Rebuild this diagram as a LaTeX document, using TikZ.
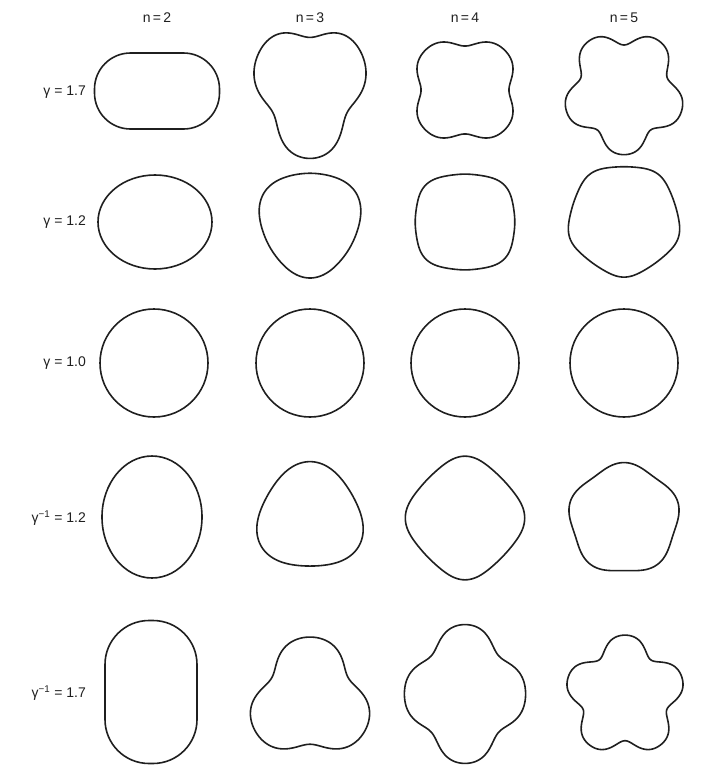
\documentclass[tikz,border=0pt]{standalone}
\usepackage{fontspec}
\setmainfont{Liberation Sans}
\tikzset{
  shapeline/.style={line width=1.6pt, draw=black!88, line join=round},
  lab/.style={font=\fontsize{14}{16}\selectfont, text=black!88, inner sep=0pt},
}
% lobed closed curve: #1 cx, #2 cy (pixels, downward), #3 sx, #4 sy, #5 n, #6 lobe angle, #7 amplitude, #8 shape factor
\newcommand\lobeshape[8]{%
  \draw[shapeline] plot[domain=0:358, samples=180, smooth cycle, variable=\t]
  ({#1 + (#3)*(1+(#7)*(cos((#5)*(\t-(#6))) - (#8)*cos(2*(#5)*(\t-(#6)))))*cos(\t)},
   {-(#2) + (#4)*(1+(#7)*(cos((#5)*(\t-(#6))) - (#8)*cos(2*(#5)*(\t-(#6)))))*sin(\t)});}
\begin{document}
\begin{tikzpicture}[x=1pt,y=1pt]
\useasboundingbox (0,0) rectangle (716,-771);
% column labels
\node[lab] (n2) at (157,-18) {n\,=\,2};
\node[lab] (n3) at (310,-18) {n\,=\,3};
\node[lab] (n4) at (465,-18) {n\,=\,4};
\node[lab] (n5) at (624,-18) {n\,=\,5};
% row labels
\node[lab, anchor=east] (r1) at (86,-92) {γ = 1.7};
\node[lab, anchor=east] (r2) at (86,-222) {γ = 1.2};
\node[lab, anchor=east] (r3) at (86,-363) {γ = 1.0};
\node[lab, anchor=east] (r4) at (86,-518) {γ\textsuperscript{−1} = 1.2};
\node[lab, anchor=east] (r5) at (86,-693) {γ\textsuperscript{−1} = 1.7};
% row 1 : gamma = 1.7
\draw[shapeline, rounded corners=36pt] (94.5,-53) rectangle (219.5,-129);
\lobeshape{310}{88}{52}{62}{3}{270}{0.16}{0.15}
\lobeshape{465}{90}{51}{51}{4}{45}{0.12}{0.15}
\lobeshape{624}{92}{54}{56}{5}{270}{0.14}{0.15}
% row 2 : gamma = 1.2
\draw[shapeline] (155,-222) ellipse [x radius=57, y radius=47];
\lobeshape{310}{222}{50}{52}{3}{270}{0.07}{-0.1}
\lobeshape{465}{222}{52}{50}{4}{45}{0.05}{-0.15}
\lobeshape{624}{220}{55}{55}{5}{270}{0.035}{-0.1}
% row 3 : gamma = 1.0
\draw[shapeline] (154,-363) circle [radius=54];
\draw[shapeline] (310,-363) circle [radius=54];
\draw[shapeline] (465,-363) circle [radius=54];
\draw[shapeline] (624,-363) circle [radius=54];
% row 4 : gamma^-1 = 1.2
\draw[shapeline] (152,-517) ellipse [x radius=50, y radius=61];
\lobeshape{310}{518}{52}{52}{3}{90}{0.08}{-0.05}
\lobeshape{465}{518}{56}{58}{4}{0}{0.06}{-0.1}
\lobeshape{624}{519}{54}{54}{5}{90}{0.045}{0}
% row 5 : gamma^-1 = 1.7
\draw[shapeline, rounded corners=44pt] (105,-620.5) rectangle (197,-763.5);
\lobeshape{310}{700}{55}{55}{3}{90}{0.17}{0.15}
\lobeshape{465}{694}{55}{63}{4}{0}{0.12}{0.15}
\lobeshape{625}{696}{53}{54}{5}{90}{0.15}{0.15}
\end{tikzpicture}
\end{document}
